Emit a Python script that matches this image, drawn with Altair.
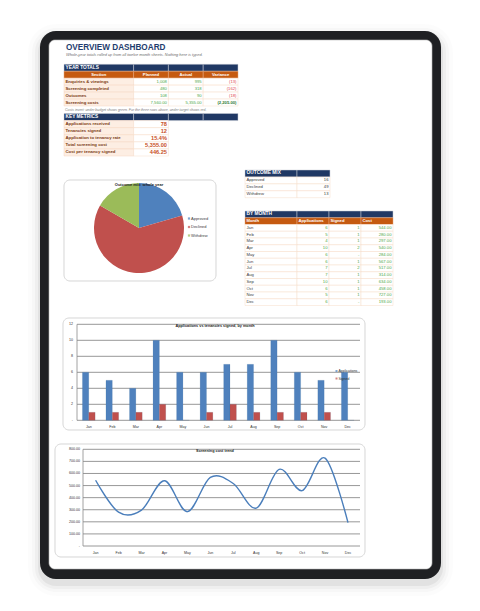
import altair as alt
import pandas as pd

# ---------------- data ----------------
months = ["Jan", "Feb", "Mar", "Apr", "May", "Jun", "Jul", "Aug", "Sep", "Oct", "Nov", "Dec"]
applications = [6, 5, 4, 10, 6, 6, 7, 7, 10, 6, 5, 6]
signed = [1, 1, 1, 2, 0, 1, 2, 1, 1, 1, 1, 0]
costs = [544, 280, 297, 540, 284, 567, 517, 314, 634, 458, 727, 193]
series_names = ["Applications", "Signed"]

outcome_labels = ["Approved", "Declined", "Withdrew"]
outcome_values = [16, 49, 13]

year_sections = ["Enquiries & viewings", "Screening completed", "Outcomes", "Screening costs"]
year_planned = ["1,008", "480", "108", "7,560.00"]
year_actual = ["995", "318", "90", "5,355.00"]
year_variance = ["(13)", "(162)", "(18)", "(2,205.00)"]
year_headers = ["Section", "Planned", "Actual", "Variance"]

metric_labels = ["Applications received", "Tenancies signed", "Application to tenancy rate",
                 "Total screening cost", "Cost per tenancy signed"]
metric_values = ["78", "12", "15.4%", "5,355.00", "446.25"]

month_headers = ["Month", "Applications", "Signed", "Cost"]

bar_ticks = [0, 2, 4, 6, 8, 10, 12]
bar_tick_labels = ["-", "2", "4", "6", "8", "10", "12"]
cost_ticks = [0, 100, 200, 300, 400, 500, 600, 700, 800]
cost_tick_labels = ["-", "100.00", "200.00", "300.00", "400.00", "500.00", "600.00", "700.00", "800.00"]

title_text = "OVERVIEW DASHBOARD"
subtitle_text = "Whole-year totals rolled up from all twelve month sheets. Nothing here is typed."
note_text = "Costs invert: under budget shows green. For the three rows above, under target shows red."

# ---------------- style ----------------
FONT = "Liberation Sans"
OFF = 8
BLUE = "#4F81BD"
RED = "#C0504D"
GREEN = "#9BBB59"


def P(v):
    return v - OFF


one = pd.DataFrame({"k": [0]})


def box(x0, x1, y0, y1, **kw):
    return alt.Chart(one).mark_rect(**kw).encode(
        x=alt.value(P(x0)), x2=alt.value(P(x1)), y=alt.value(P(y0)), y2=alt.value(P(y1)))


def label(text, x, y, **kw):
    return alt.Chart(one).mark_text(font=FONT, **kw).encode(
        x=alt.value(P(x)), y=alt.value(P(y)), text=alt.value(text))


STYLES = {
    "hdr": dict(align="left", fontWeight="bold", color="#FFFFFF", fontSize=4.8),
    "colhdr": dict(align="center", fontWeight="bold", color="#FFFFFF", fontSize=4.2),
    "colhdrL": dict(align="left", fontWeight="bold", color="#FFFFFF", fontSize=4.2),
    "rowlab": dict(align="left", fontWeight="bold", color="#7B3A12", fontSize=4.3),
    "green": dict(align="right", fontWeight="normal", color="#4FA84A", fontSize=4.2),
    "red": dict(align="right", fontWeight="normal", color="#E0464A", fontSize=4.2),
    "greenB": dict(align="right", fontWeight="bold", color="#2F7A2F", fontSize=4.2),
    "metric": dict(align="right", fontWeight="bold", color="#C8501E", fontSize=5.6),
    "plain": dict(align="left", fontWeight="normal", color="#404040", fontSize=4.2),
    "plainR": dict(align="right", fontWeight="normal", color="#404040", fontSize=4.2),
}
FILLS = {
    "navy": ("#203864", "#C8CCD6"),
    "orange": ("#C55A11", "#E7A47A"),
    "peach": ("#FDEEE3", "#F7D7C0"),
    "white": ("#FFFFFF", "#F7DCC8"),
}


def table(cells, xdom, xr, ydom, yr):
    xs = alt.Scale(domain=xdom, range=[P(xr[0]), P(xr[1])], nice=False, zero=False)
    ys = alt.Scale(domain=ydom, range=[P(yr[0]), P(yr[1])], nice=False, zero=False)
    df = pd.DataFrame(cells, columns=["r", "c0", "c1", "kind", "text", "style"])
    df["r1"] = df["r"] + 1
    df["cm"] = (df["c0"] + df["c1"]) / 2
    df["rm"] = df["r"] + 0.5
    kinds = list(FILLS.keys())
    layers = [alt.Chart(df).mark_rect(strokeWidth=0.5).encode(
        x=alt.X("c0:Q", scale=xs, axis=None), x2="c1:Q",
        y=alt.Y("r:Q", scale=ys, axis=None), y2="r1:Q",
        fill=alt.Fill("kind:N", scale=alt.Scale(domain=kinds, range=[FILLS[k][0] for k in kinds]), legend=None),
        stroke=alt.Stroke("kind:N", scale=alt.Scale(domain=kinds, range=[FILLS[k][1] for k in kinds]), legend=None),
    )]
    for sname, sdef in STYLES.items():
        sub = df[(df["style"] == sname) & (df["text"] != "")]
        if sub.empty:
            continue
        align = sdef["align"]
        xfield = {"left": "c0", "right": "c1", "center": "cm"}[align]
        dx = {"left": 1.5, "right": -1.5, "center": 0}[align]
        layers.append(alt.Chart(sub).mark_text(
            font=FONT, baseline="middle", dx=dx, align=align, fontWeight=sdef["fontWeight"],
            color=sdef["color"], fontSize=sdef["fontSize"]).encode(
            x=alt.X(f"{xfield}:Q", scale=xs, axis=None),
            y=alt.Y("rm:Q", scale=ys, axis=None),
            text="text:N"))
    return alt.layer(*layers)


layers = []

# ---------------- tablet frame ----------------
for grow, op in [(12, 0.012), (8, 0.02), (5, 0.03), (2, 0.05)]:
    layers.append(box(40 - grow, 441 + grow, 31 - grow + 5, 579 + grow + 5,
                      cornerRadius=16 + grow, fill="black", opacity=op))
layers.append(box(40, 441, 31, 579, cornerRadius=16, fill="#1F2023"))
layers.append(box(49, 432, 40, 569, cornerRadius=6, fill="white", stroke="#B8B8B8", strokeWidth=0.6))

# ---------------- header text ----------------
layers.append(label(title_text, 66, 49.5, align="left", baseline="alphabetic", fontSize=8.2,
                    fontWeight="bold", color="#1F3D6E"))
layers.append(label(subtitle_text, 66, 56, align="left", baseline="alphabetic", fontSize=3.9,
                    fontStyle="italic", color="#6E6E6E"))

# ---------------- YEAR TOTALS ----------------
ycols = [(0, 2), (2, 3), (3, 4), (4, 5)]
cells = [(0, ycols[0][0], ycols[0][1], "navy", "YEAR TOTALS", "hdr")]
cells += [(0, a, b, "navy", "", "") for a, b in ycols[1:]]
cells += [(1, a, b, "orange", h, "colhdr") for (a, b), h in zip(ycols, year_headers)]
for i, sec in enumerate(year_sections):
    r = 2 + i
    cells.append((r, 0, 2, "peach", sec, "rowlab"))
    cells.append((r, 2, 3, "white", year_planned[i], "green"))
    cells.append((r, 3, 4, "white", year_actual[i], "green"))
    cells.append((r, 4, 5, "white", year_variance[i], "greenB" if sec == "Screening costs" else "red"))
layers.append(table(cells, [0, 5], (64, 238), [0, 6], (64.3, 106)))
layers.append(label(note_text, 65, 110.5, align="left", baseline="alphabetic", fontSize=3.5,
                    fontStyle="italic", color="#7A7A7A"))

# ---------------- KEY METRICS ----------------
cells = [(0, 0, 2, "navy", "KEY METRICS", "hdr")]
cells += [(0, a, b, "navy", "", "") for a, b in ycols[1:]]
for i, (lab, val) in enumerate(zip(metric_labels, metric_values)):
    cells.append((1 + i, 0, 2, "peach", lab, "rowlab"))
    cells.append((1 + i, 2, 3, "white", val, "metric"))
layers.append(table(cells, [0, 5], (64, 238), [0, 6], (113.5, 156)))

# ---------------- OUTCOME MIX ----------------
mcols = [(0, 1.625), (1.625, 2.625), (2.625, 3.625), (3.625, 4.625)]
cells = [(0, 0, 1.625, "navy", "OUTCOME MIX", "hdr"), (0, 1.625, 2.656, "navy", "", "")]
for i, (lab, val) in enumerate(zip(outcome_labels, outcome_values)):
    cells.append((1 + i, 0, 1.625, "white", lab, "plain"))
    cells.append((1 + i, 1.625, 2.656, "white", str(val), "plainR"))
layers.append(table(cells, [0, 4.625], (245, 393), [0, 4], (170, 197.7)))

# ---------------- BY MONTH ----------------
cells = [(0, mcols[0][0], mcols[0][1], "navy", "BY MONTH", "hdr")]
cells += [(0, a, b, "navy", "", "") for a, b in mcols[1:]]
cells += [(1, a, b, "orange", h, "colhdrL") for (a, b), h in zip(mcols, month_headers)]
for i, m in enumerate(months):
    r = 2 + i
    cells.append((r, *mcols[0], "white", m, "plain"))
    cells.append((r, *mcols[1], "white", str(applications[i]), "green"))
    cells.append((r, *mcols[2], "white", str(signed[i]) if signed[i] else "-", "green"))
    cells.append((r, *mcols[3], "white", f"{costs[i]:,.2f}", "green"))
layers.append(table(cells, [0, 4.625], (245, 393), [0, 14], (211, 305.5)))

# ---------------- PIE ----------------
layers.append(box(64, 216, 180, 281, cornerRadius=6, fill="white", stroke="#C4C4C4", strokeWidth=0.7))
pie_df = pd.DataFrame({"label": outcome_labels, "value": outcome_values, "idx": range(len(outcome_labels))})
pie_color = alt.Color("label:N", scale=alt.Scale(domain=outcome_labels, range=[BLUE, RED, GREEN]), legend=None)
pie = alt.Chart(pie_df).mark_arc(radius=45).encode(
    theta=alt.Theta("value:Q", stack=True),
    color=pie_color,
    order=alt.Order("idx:Q"),
    x=alt.value(P(139)), y=alt.value(P(228)))
leg_y = alt.Y("label:N", scale=alt.Scale(type="point", domain=outcome_labels, range=[P(218.5), P(235.5)], padding=0), axis=None)
pie_leg = alt.Chart(pie_df).mark_square(size=5).encode(x=alt.value(P(189)), y=leg_y, color=pie_color)
pie_leg_t = alt.Chart(pie_df).mark_text(font=FONT, align="left", baseline="middle", fontSize=4, color="#404040").encode(
    x=alt.value(P(191)), y=leg_y, text="label:N")
layers.append(alt.layer(pie, pie_leg, pie_leg_t))
layers.append(label("Outcome mix: whole year", 139, 184.5, align="center", baseline="middle", fontSize=4,
                    fontWeight="bold", color="#222222"))

# ---------------- BAR CHART ----------------
layers.append(box(63, 365, 318, 430, cornerRadius=6, fill="white", stroke="#C4C4C4", strokeWidth=0.7))
bar_df = pd.DataFrame({
    "month": months * 2,
    "series": [series_names[0]] * len(months) + [series_names[1]] * len(months),
    "value": applications + signed,
})
bxs = alt.Scale(type="band", domain=months, range=[P(77), P(359.5)], paddingInner=0.46, paddingOuter=0.23)
bys = alt.Scale(domain=[0, 12], range=[P(420.3), P(324.3)], nice=False, zero=False)
bcolor = alt.Color("series:N", scale=alt.Scale(domain=series_names, range=[BLUE, RED]), legend=None)
bgrid = alt.Chart(pd.DataFrame({"v": bar_ticks, "t": bar_tick_labels})).mark_rule(
    color="#8C8C8C", strokeWidth=0.9).encode(
    y=alt.Y("v:Q", scale=bys, axis=None), x=alt.value(P(77)), x2=alt.value(P(360)))
bylab = alt.Chart(pd.DataFrame({"v": bar_ticks, "t": bar_tick_labels})).mark_text(
    font=FONT, align="right", baseline="middle", fontSize=3.6, color="#333333").encode(
    y=alt.Y("v:Q", scale=bys, axis=None), x=alt.value(P(73)), text="t:N")
byaxis = alt.Chart(one).mark_rule(color="#8C8C8C", strokeWidth=0.8).encode(
    x=alt.value(P(77)), y=alt.value(P(324.3)), y2=alt.value(P(420.3)))
bars = alt.Chart(bar_df).mark_bar(strokeWidth=0.3, stroke="#2E5A8C", strokeOpacity=0.4).encode(
    x=alt.X("month:N", scale=bxs, axis=None),
    xOffset=alt.XOffset("series:N", scale=alt.Scale(domain=series_names, paddingInner=0, paddingOuter=0)),
    y=alt.Y("value:Q", scale=bys, axis=None),
    color=bcolor)
bxlab = alt.Chart(pd.DataFrame({"month": months})).mark_text(
    font=FONT, align="center", baseline="middle", fontSize=3.6, color="#333333").encode(
    x=alt.X("month:N", scale=bxs, axis=None, bandPosition=0.5), y=alt.value(P(426.5)), text="month:N")
leg_df = pd.DataFrame({"series": series_names})
bleg_y = alt.Y("series:N", scale=alt.Scale(type="point", domain=series_names, range=[P(371), P(378.5)], padding=0), axis=None)
bleg = alt.Chart(leg_df).mark_square(size=4).encode(x=alt.value(P(336.5)), y=bleg_y, color=bcolor)
bleg_t = alt.Chart(leg_df).mark_text(font=FONT, align="left", baseline="middle", fontSize=3.5, color="#333333").encode(
    x=alt.value(P(338.5)), y=bleg_y, text="series:N")
layers.append(alt.layer(bgrid, byaxis, bylab, bars, bxlab, bleg, bleg_t))
layers.append(label("Applications vs tenancies signed, by month", 215, 325.5, align="center", baseline="middle",
                    fontSize=3.8, fontWeight="bold", color="#222222"))

# ---------------- LINE CHART ----------------
layers.append(box(55, 365, 444, 557, cornerRadius=6, fill="white", stroke="#C4C4C4", strokeWidth=0.7))
cost_df = pd.DataFrame({"month": months, "cost": costs, "idx": range(len(months))})
lxs = alt.Scale(type="point", domain=months, range=[P(95.6), P(348)], padding=0)
lys = alt.Scale(domain=[0, 800], range=[P(546), P(449.3)], nice=False, zero=False)
tick_df = pd.DataFrame({"v": cost_ticks, "t": cost_tick_labels})
lgrid = alt.Chart(tick_df).mark_rule(color="#8C8C8C", strokeWidth=0.9).encode(
    y=alt.Y("v:Q", scale=lys, axis=None), x=alt.value(P(83)), x2=alt.value(P(360)))
lylab = alt.Chart(tick_df).mark_text(font=FONT, align="right", baseline="middle", fontSize=3.6,
                                     color="#333333").encode(
    y=alt.Y("v:Q", scale=lys, axis=None), x=alt.value(P(80)), text="t:N")
lyaxis = alt.Chart(one).mark_rule(color="#8C8C8C", strokeWidth=0.8).encode(
    x=alt.value(P(83)), y=alt.value(P(449.3)), y2=alt.value(P(546)))
line = alt.Chart(cost_df).mark_line(interpolate="cardinal", color="#4A7EBB", strokeWidth=1.4).encode(
    x=alt.X("month:N", scale=lxs, axis=None),
    y=alt.Y("cost:Q", scale=lys, axis=None),
    order=alt.Order("idx:Q"))
lxlab = alt.Chart(cost_df).mark_text(font=FONT, align="center", baseline="middle", fontSize=3.6,
                                     color="#333333").encode(
    x=alt.X("month:N", scale=lxs, axis=None), y=alt.value(P(552.7)), text="month:N")
layers.append(alt.layer(lgrid, lyaxis, lylab, line, lxlab))
layers.append(label("Screening cost trend", 215, 451, align="center", baseline="middle",
                    fontSize=3.8, fontWeight="bold", color="#222222"))

chart = alt.layer(*layers).resolve_scale(
    x="independent", y="independent", color="independent", fill="independent",
    stroke="independent", xOffset="independent", theta="independent",
).properties(
    width=464, height=595, padding=0, autosize=alt.AutoSizeParams(type="none"), background="white"
).configure_view(stroke=None)

chart.save("out.html", embed_options={"renderer": "svg", "actions": False})
